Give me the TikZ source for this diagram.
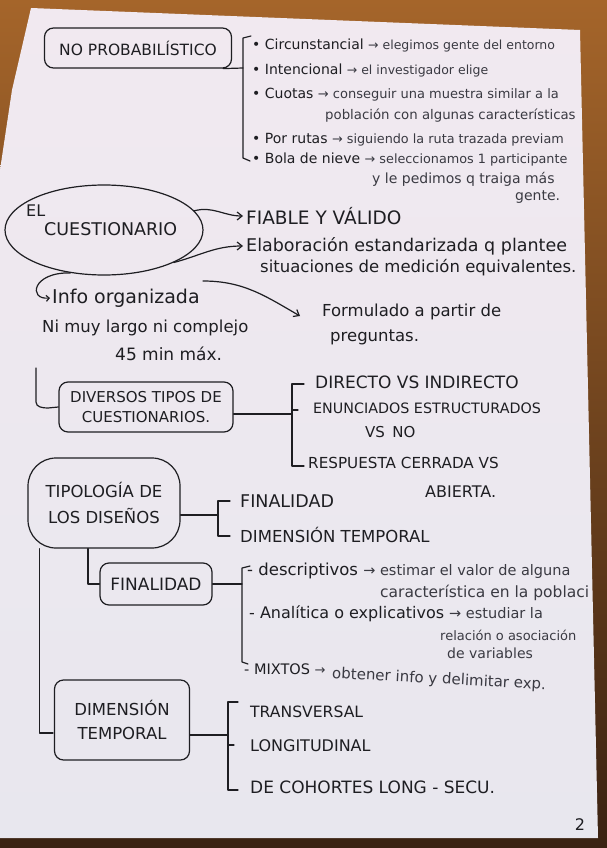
\documentclass[tikz,border=0pt]{standalone}
\usepackage{fontspec}
\setmainfont{DejaVu Sans}
\usetikzlibrary{shapes.geometric,arrows.meta,calc}
\definecolor{ink}{HTML}{1E1E22}
\definecolor{ink2}{HTML}{3A3A42}
\definecolor{paperA}{HTML}{F1E9F0}
\definecolor{paperB}{HTML}{E8E7EE}
\definecolor{woodA}{HTML}{A5652A}
\definecolor{woodB}{HTML}{3A2212}
\newcommand\fsz[1]{\fontsize{#1}{#1}\selectfont}
\newcommand\sm[2]{{\fsz{#1}\color{ink2}#2}}
\begin{document}
\begin{tikzpicture}[x=1pt,y=-1pt,
  t/.style={anchor=west, inner sep=0pt, text=ink, font=\fsz{#1}},
  t/.default=16,
  s/.style={anchor=west, inner sep=0pt, text=ink2, font=\fsz{#1}},
  s/.default=13,
  ln/.style={draw=ink, line width=1.2pt, line cap=round, line join=round},
  arr/.style={ln, -{Straight Barb[length=5pt,width=8pt]}},
  box/.style={ln, rounded corners=9pt, inner sep=0pt, text=ink, font=\fsz{#1}, align=center},
  box/.default=16]
\useasboundingbox (0,0) rectangle (607,848);
\shade[top color=woodA, bottom color=woodB] (0,0) rectangle (607,848);
\shade[top color=paperA, bottom color=paperB] (31,8) -- (580,30) -- (598,838) -- (0,838) -- (0,170) -- (12,90) -- cycle;

% NO PROBABILISTICO
\node[box=15.5, minimum width=187pt, minimum height=40pt] (np) at (138,48) {NO PROBABILÍSTICO};
\coordinate (npb) at (243,68);
\draw[ln] ($(np.south east)+(-9,0)$) -- (npb);
\draw[ln] (251,36) -- (243,38) -- (243,158) -- (250,161);
\node[t=14] (c1) at (252,45) {• Circunstancial \sm{12.5}{→ elegimos gente del entorno}};
\node[t=14] (c2) at (252,70) {• Intencional \sm{12.5}{→ el investigador elige}};
\node[t=14] (c3) at (252,95) {• Cuotas \sm{13}{→ conseguir una muestra similar a la}};
\node[s=13.3] (c3b) at (325,116) {población con algunas características};
\node[t=14] (c4) at (252,140) {• Por rutas \sm{12.8}{→ siguiendo la ruta trazada previam}};
\node[t=14] (c5) at (252,160) {• Bola de nieve \sm{12.8}{→ seleccionamos 1 participante}};
\node[s=14] (c5b) at (372,179) {y le pedimos q traiga más};
\node[s=14] (c5c) at (515,197) {gente.};

% EL CUESTIONARIO
\node[ellipse, ln, minimum width=198pt, minimum height=90pt, inner sep=0pt] (cues) at (104,230) {};
\node[t=16] (el) at (26,211) {EL};
\node[t=17.5] (cu) at (44,229) {CUESTIONARIO};
\node[t=18.5] (fia) at (246,216) {FIABLE Y VÁLIDO};
\draw[arr] (cues.12) to[out=15,in=180] ($(fia.west)+(-3,0)$);
\node[t=17.5] (ela) at (246,246) {Elaboración estandarizada q plantee};
\node[t=16.5] (ela2) at (260,268) {situaciones de medición equivalentes.};
\draw[arr] (cues.-25) to[out=15,in=180] ($(ela.west)+(-3,0)$);
\coordinate (f0) at (203,281);
\node[t=16.5] (form) at (322,312) {Formulado a partir de};
\node[t=16.5] (form2) at (330,337) {preguntas.};
\draw[arr] (f0) to[out=0,in=150] ($(form.west)+(-22,4)$);
\node[t=19] (info) at (52,298) {Info organizada};
\draw[ln, -{Straight Barb[length=3pt,width=6pt]}] (cues.232) .. controls (32,272) and (28,300) .. ($(info.west)+(-2,0)$);
\node[t=16.5] (ni) at (42,328) {Ni muy largo ni complejo};
\node[t=17] (mx) at (115,354) {45 min máx.};

% DIVERSOS TIPOS
\coordinate (d0) at (36,368);
\node[box=15, minimum width=174pt, minimum height=50pt] (div) at (146,407) {DIVERSOS TIPOS DE\\[5pt]CUESTIONARIOS.};
\draw[ln] (d0) -- (36,402) to[out=-90,in=180] (48,408) -- (div.west);
\coordinate (db) at (292,414);
\draw[ln] (div.east |- db) -- (db);
\draw[ln] (304,384) -- (292,384) -- (292,466) -- (304,466);
\draw[ln] (292,410) -- (298,410);
\node[t=17] (q1) at (315,382) {DIRECTO VS INDIRECTO};
\node[t=14.3] (q2) at (313,408) {ENUNCIADOS ESTRUCTURADOS};
\node[t=15] (q2b) at (365,432) {VS\enspace NO};
\node[t=15.2] (q3) at (308,463) {RESPUESTA CERRADA VS};
\node[t=16] (q3b) at (425,492) {ABIERTA.};

% TIPOLOGIA
\node[box=16.5, rounded corners=28pt, minimum width=152pt, minimum height=90pt] (tip) at (104,503) {TIPOLOGÍA DE\\[9pt]LOS DISEÑOS};
\coordinate (tb) at (218,515);
\draw[ln] (tip.east |- tb) -- (tb);
\draw[ln] (230,501) -- (218,501) -- (218,536) -- (230,536);
\node[t=17.5] (tf) at (240,501) {FINALIDAD};
\node[t=16.5] (td) at (240,535) {DIMENSIÓN TEMPORAL};

% FINALIDAD
\node[box=17, minimum width=112pt, minimum height=42pt] (fin) at (156,584) {FINALIDAD};
\coordinate (t2) at ($(tip.south)+(-16,0)$);
\draw[ln] (t2) |- (fin.west);
\coordinate (fb) at (242,584);
\draw[ln] (fin.east) -- (fb);
\draw[ln] (250,566) -- (242,568) -- (242,662) -- (248,664);
\node[t=16.5] (f1) at (247,571) {- descriptivos \sm{14.5}{→ estimar el valor de alguna}};
\node[s=15.5] (f1b) at (380,593) {característica en la poblaci};
\node[t=16] (f2) at (249,614) {- Analítica o explicativos \sm{14.5}{→ estudiar la}};
\node[s=13] (f2b) at (440,635) {relación o asociación};
\node[s=14] (f2c) at (447,653) {de variables};
\node[t=14.5] (f3) at (244,669) {- MIXTOS \sm{13}{→}};
\node[s=15, rotate=-3] (f3b) at (332,674) {obtener info y delimitar exp.};

% DIMENSION TEMPORAL
\coordinate (t1) at ($(tip.south west)+(12,0)$);
\coordinate (d1) at (53,733);
\draw[ln] (t1) |- (d1);
\node[box=16.5, minimum width=135pt, minimum height=80pt] (dim) at (122,720) {DIMENSIÓN\\[7pt]TEMPORAL};
\coordinate (mb) at (228,735);
\draw[ln] (dim.east |- mb) -- (mb);
\draw[ln] (238,702) -- (228,702) -- (228,790) -- (238,790);
\draw[ln] (228,745) -- (234,745);
\node[t=15.6] (m1) at (250,712) {TRANSVERSAL};
\node[t=16] (m2) at (250,746) {LONGITUDINAL};
\node[t=17] (m3) at (250,787) {DE COHORTES LONG - SECU.};

\node[t=16, anchor=center] (pg) at (580,825) {2};
\end{tikzpicture}
\end{document}
